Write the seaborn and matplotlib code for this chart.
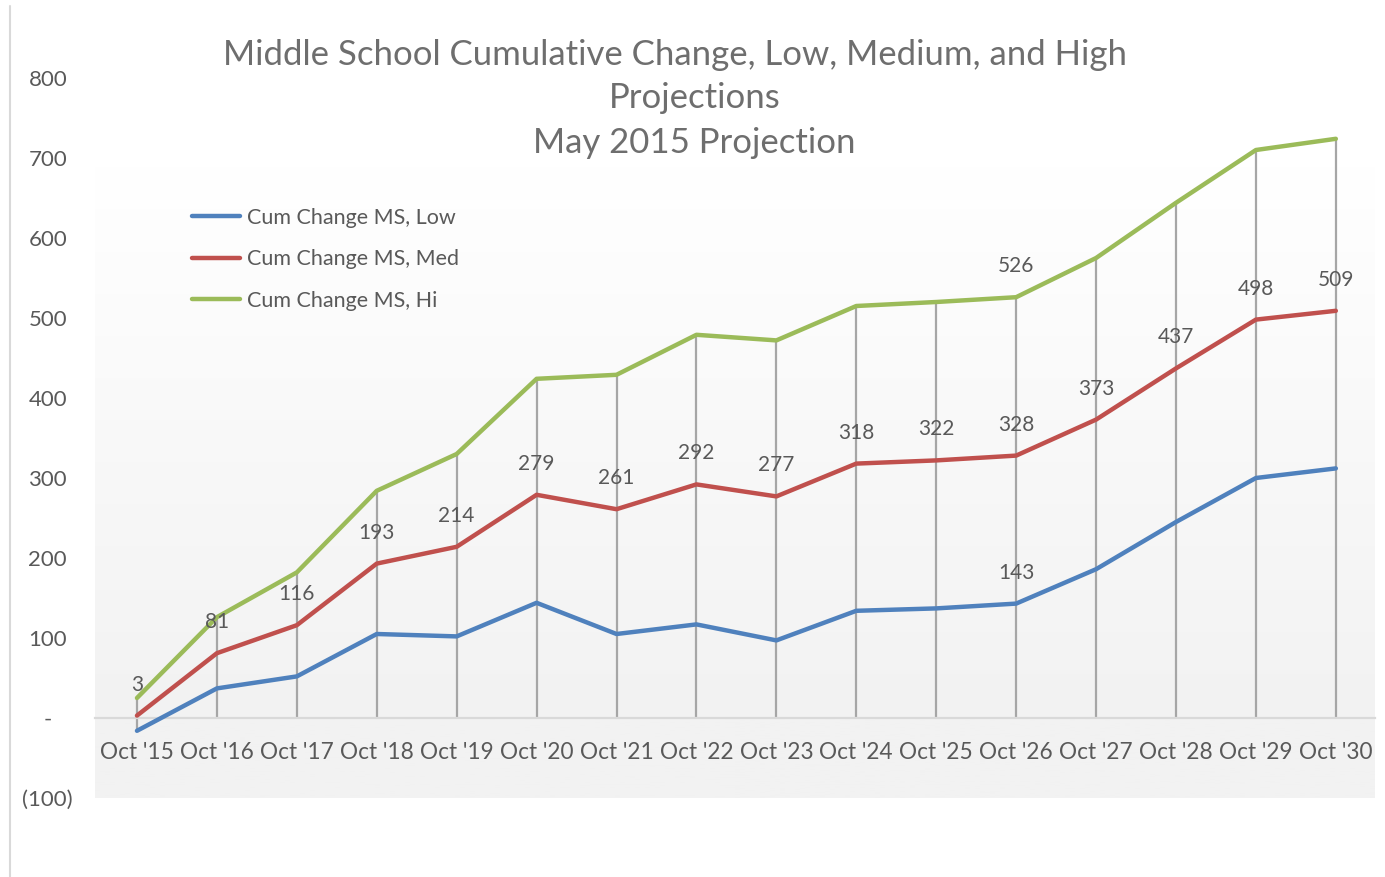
import numpy as np
import pandas as pd
import matplotlib
matplotlib.use("Agg")
import matplotlib.pyplot as plt
from matplotlib.lines import Line2D
from matplotlib.colors import LinearSegmentedColormap
import seaborn as sns

# ==============================================================================
# DATA
# ==============================================================================
years = ["Oct '15", "Oct '16", "Oct '17", "Oct '18", "Oct '19", "Oct '20", "Oct '21", "Oct '22",
         "Oct '23", "Oct '24", "Oct '25", "Oct '26", "Oct '27", "Oct '28", "Oct '29", "Oct '30"]
low = [-16, 37, 52, 105, 102, 144, 105, 117, 97, 134, 137, 143, 186, 245, 300, 312]
med = [3, 81, 116, 193, 214, 279, 261, 292, 277, 318, 322, 328, 373, 437, 498, 509]
hi = [25, 126, 182, 284, 330, 424, 429, 479, 472, 515, 520, 526, 575, 644, 710, 724]
series_names = ["Cum Change MS, Low", "Cum Change MS, Med", "Cum Change MS, Hi"]
y_ticks = [-100, 0, 100, 200, 300, 400, 500, 600, 700, 800]
y_tick_labels = ["(100)", "-", "100", "200", "300", "400", "500", "600", "700", "800"]
title_lines = ["Middle School Cumulative Change, Low, Medium, and High", "Projections",
               "May 2015 Projection"]

# which points carry a data label: (series index, point index)
label_points = [(1, i) for i in range(len(years))] + [(2, 11), (0, 11)]

colors = ["#4F81BD", "#C0504D", "#9BBB59"]
text_col = "#595959"

# long table for seaborn
df = pd.DataFrame({
    "x": list(range(len(years))) * 3,
    "value": low + med + hi,
    "series": [s for s in series_names for _ in years],
})

# ==============================================================================
# FIGURE
# ==============================================================================
sns.set_style("white")
plt.rcParams["font.family"] = ["Lato", "DejaVu Sans"]

W, H = 1385, 877
fig = plt.figure(figsize=(W / 100, H / 100), dpi=100)
ax = fig.add_axes([95 / W, 1 - 798 / H, 1280 / W, 720 / H])
ax.set_facecolor("none")
ax.set_xlim(-0.525, 15.49)

# plot area gradient: white at the top, light gray from the zero line down
cmap = LinearSegmentedColormap.from_list("bg", ["#FFFFFF", "#F2F2F2"])
yy = np.linspace(-100, 691, 400)
grad = np.clip((691 - yy) / 691, 0, 1).reshape(-1, 1)
ax.imshow(grad, extent=[-0.525, 15.49, -100, 691], cmap=cmap, aspect="auto",
          origin="lower", zorder=0, vmin=0, vmax=1)
ax.set_ylim(-100, 800)

# drop lines
xs = np.arange(len(years))
ax.vlines(xs, np.minimum(0, low), hi, color="#A6A6A6", lw=1.6, zorder=1)

sns.lineplot(data=df, x="x", y="value", hue="series", palette=colors, lw=3.2,
             sort=False, legend=False, ax=ax, zorder=3)

# data labels
all_series = [low, med, hi]
for s, i in label_points:
    ax.annotate(str(all_series[s][i]), (i, all_series[s][i]), xytext=(0, 31),
                textcoords="offset pixels", ha="center", va="center",
                fontsize=15, color=text_col, zorder=4)

# axes styling
for side in ["top", "right", "left"]:
    ax.spines[side].set_visible(False)
ax.spines["bottom"].set_position(("data", 0))
ax.spines["bottom"].set_color("#D9D9D9")
ax.spines["bottom"].set_linewidth(1.6)
ax.spines["bottom"].set_zorder(2)

ax.set_xticks(xs)
ax.set_xticklabels(years)
ax.set_yticks(y_ticks)
ax.set_yticklabels(y_tick_labels)
ax.tick_params(axis="x", length=0, pad=17, labelsize=16.3, labelcolor=text_col)
ax.tick_params(axis="y", length=0, pad=34, labelsize=16, labelcolor=text_col)
for t in ax.get_yticklabels():
    t.set_ha("center")
ax.set_xlabel("")
ax.set_ylabel("")
ax.grid(False)

# legend
handles = [Line2D([0], [0], color=c, lw=3.2) for c in colors]
fig.legend(handles, series_names, loc="upper left", bbox_to_anchor=(181 / W, 1 - 197 / H),
           frameon=False, fontsize=15.5, handlelength=2.25, handletextpad=0.33,
           labelspacing=1.0, borderpad=0, labelcolor=text_col)

# title
title_pos = [(675, 55), (695, 98), (694, 143)]
for line, (px, py) in zip(title_lines, title_pos):
    fig.text(px / W, 1 - py / H, line, ha="center", va="center", fontsize=25,
             color="#6E6E6E")

# page border line at the left
fig.add_artist(Line2D([10 / W, 10 / W], [0, 1 - 6 / H], color="#D9D9D9", lw=1.5))

fig.savefig("out.png", dpi=100)
